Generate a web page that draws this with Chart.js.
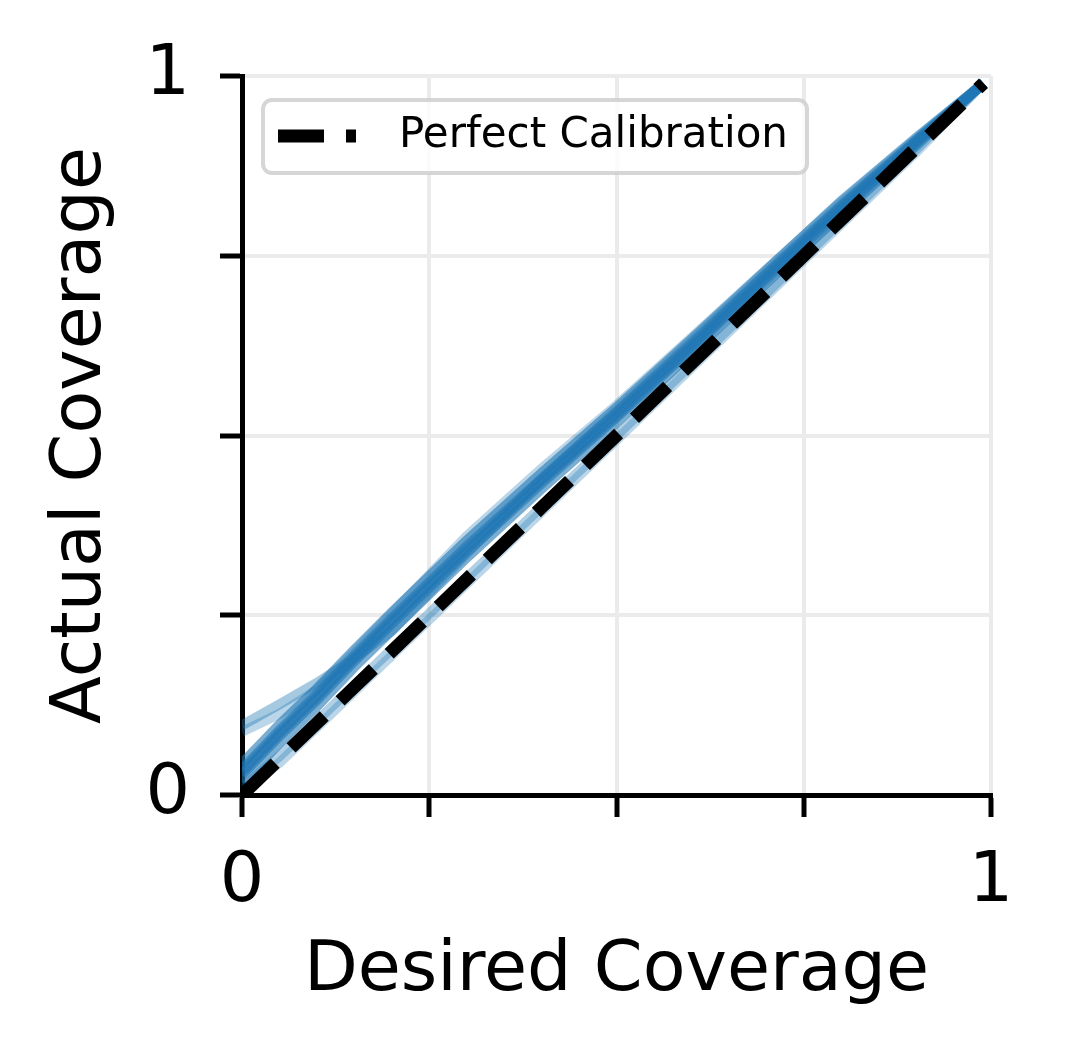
<!DOCTYPE html>
<html>
<head>
<meta charset="utf-8">
<script src="https://cdn.jsdelivr.net/npm/chart.js@4.4.0/dist/chart.umd.min.js"></script>
<style>
  body { margin: 0; background: #fff; }
</style>
</head>
<body>
<canvas id="chart--coverage" width="1065" height="1061"></canvas>
<script>
// desired coverage levels (x)
const desired = [0, 0.05, 0.1, 0.15, 0.2, 0.3, 0.4, 0.5, 0.6, 0.7, 0.8, 0.9, 0.99];

// actual coverage per run (y)
const run1 = [0.044, 0.098, 0.148, 0.202, 0.254, 0.354, 0.448, 0.539, 0.634, 0.730, 0.826, 0.914, 0.99];
const run2 = [0.036, 0.090, 0.140, 0.194, 0.246, 0.346, 0.440, 0.532, 0.627, 0.724, 0.819, 0.910, 0.99];
const run3 = [0.028, 0.082, 0.132, 0.186, 0.238, 0.338, 0.433, 0.525, 0.620, 0.717, 0.813, 0.906, 0.99];
const run4 = [0.018, 0.072, 0.123, 0.178, 0.229, 0.330, 0.426, 0.518, 0.614, 0.712, 0.808, 0.903, 0.99];
const run5 = [0.032, 0.086, 0.136, 0.190, 0.242, 0.342, 0.437, 0.528, 0.623, 0.720, 0.816, 0.908, 0.99];
const run6 = [0.097, 0.126, 0.156, 0.190, 0.228, 0.336, 0.440, 0.534, 0.630, 0.726, 0.821, 0.911, 0.99];
const run7 = [0.088, 0.113, 0.146, 0.198, 0.252, 0.360, 0.454, 0.542, 0.636, 0.731, 0.824, 0.912, 0.99];
const run8 = [0.004, 0.045, 0.094, 0.144, 0.194, 0.294, 0.394, 0.494, 0.594, 0.694, 0.794, 0.894, 0.99];
const run9 = [0.010, 0.054, 0.103, 0.153, 0.203, 0.302, 0.401, 0.500, 0.599, 0.698, 0.798, 0.898, 0.99];
const perfect = [0, 0.05, 0.1, 0.15, 0.2, 0.3, 0.4, 0.5, 0.6, 0.7, 0.8, 0.9, 0.99];

const runs = [run1, run2, run3, run4, run5, run6, run7, run8, run9];
const runAlpha = [0.6, 0.6, 0.6, 0.6, 0.6, 0.4, 0.3, 0.3, 0.35];

const xTicks = [0, 0.25, 0.5, 0.75, 1];
const xTickLabels = ['0', '', '', '', '1'];
const yTicks = [0, 0.25, 0.5, 0.75, 1];
const yTickLabels = ['0', '', '', '', '1'];

const FONT = 'DejaVu Sans';

function pts(ys) {
    return ys.map((y, i) => ({x: desired[i], y: y}));
}

const datasets = [{
    label: 'Perfect Calibration',
    data: pts(perfect),
    borderColor: '#000',
    borderWidth: 13,
    borderDash: [46, 22],
    borderCapStyle: 'butt',
    pointRadius: 0,
    fill: false
}];
runs.forEach((r, i) => {
    datasets.push({
        label: 'run ' + (i + 1),
        data: pts(r),
        borderColor: 'rgba(31, 119, 180, ' + runAlpha[i] + ')',
        borderWidth: 10,
        pointRadius: 0,
        fill: false
    });
});

// matplotlib-style legend box inside the axes
const legendBox = {
    id: 'legendBox',
    afterDatasetsDraw(chart) {
        const ctx = chart.ctx;
        const ds = chart.data.datasets[0];
        ctx.save();
        ctx.beginPath();
        ctx.roundRect(263, 100, 544, 73, 9);
        ctx.fillStyle = 'rgba(255,255,255,0.8)';
        ctx.fill();
        ctx.lineWidth = 4;
        ctx.strokeStyle = 'rgba(204,204,204,0.8)';
        ctx.stroke();
        ctx.beginPath();
        ctx.setLineDash(ds.borderDash);
        ctx.lineWidth = ds.borderWidth;
        ctx.lineCap = 'butt';
        ctx.strokeStyle = ds.borderColor;
        ctx.moveTo(278, 136);
        ctx.lineTo(356, 136);
        ctx.stroke();
        ctx.setLineDash([]);
        ctx.fillStyle = '#000';
        ctx.font = '42px "' + FONT + '"';
        ctx.textBaseline = 'middle';
        ctx.fillText(ds.label, 399, 136);
        ctx.restore();
    }
};

const config = {
    type: 'line',
    data: {datasets: datasets},
    options: {
        responsive: false,
        animation: false,
        devicePixelRatio: 1,
        layout: {padding: {top: 76, right: 74, left: 0, bottom: 0}},
        plugins: {
            legend: {display: false},
            tooltip: {enabled: false}
        },
        scales: {
            x: {
                type: 'linear',
                min: 0,
                max: 1,
                afterFit: s => { s.height = 266; },
                afterBuildTicks: s => { s.ticks = xTicks.map(v => ({value: v})); },
                ticks: {
                    callback: (v, i) => xTickLabels[i],
                    font: {family: FONT, size: 70},
                    color: '#000',
                    padding: 24,
                    maxRotation: 0,
                    autoSkip: false
                },
                grid: {
                    color: '#ebebeb',
                    lineWidth: 4,
                    tickLength: 22,
                    tickColor: '#000',
                    tickWidth: 5
                },
                border: {color: '#000', width: 5},
                title: {
                    display: true,
                    text: 'Desired Coverage',
                    font: {family: FONT, size: 70},
                    color: '#000',
                    padding: {top: 0, bottom: 47}
                }
            },
            y: {
                type: 'linear',
                min: 0,
                max: 1,
                afterFit: s => { s.width = 242; },
                afterBuildTicks: s => { s.ticks = yTicks.map(v => ({value: v})); },
                ticks: {
                    callback: (v, i) => yTickLabels[i],
                    font: {family: FONT, size: 70},
                    color: '#000',
                    padding: 30,
                    autoSkip: false
                },
                grid: {
                    color: '#ebebeb',
                    lineWidth: 4,
                    tickLength: 22,
                    tickColor: '#000',
                    tickWidth: 5
                },
                border: {color: '#000', width: 5},
                title: {
                    display: true,
                    text: 'Actual Coverage',
                    font: {family: FONT, size: 70},
                    color: '#000',
                    padding: {top: 40, bottom: 0}
                }
            }
        }
    },
    plugins: [legendBox]
};

var chartCoverage = new Chart(
    document.getElementById('chart--coverage'),
    config
);
</script>
</body>
</html>
